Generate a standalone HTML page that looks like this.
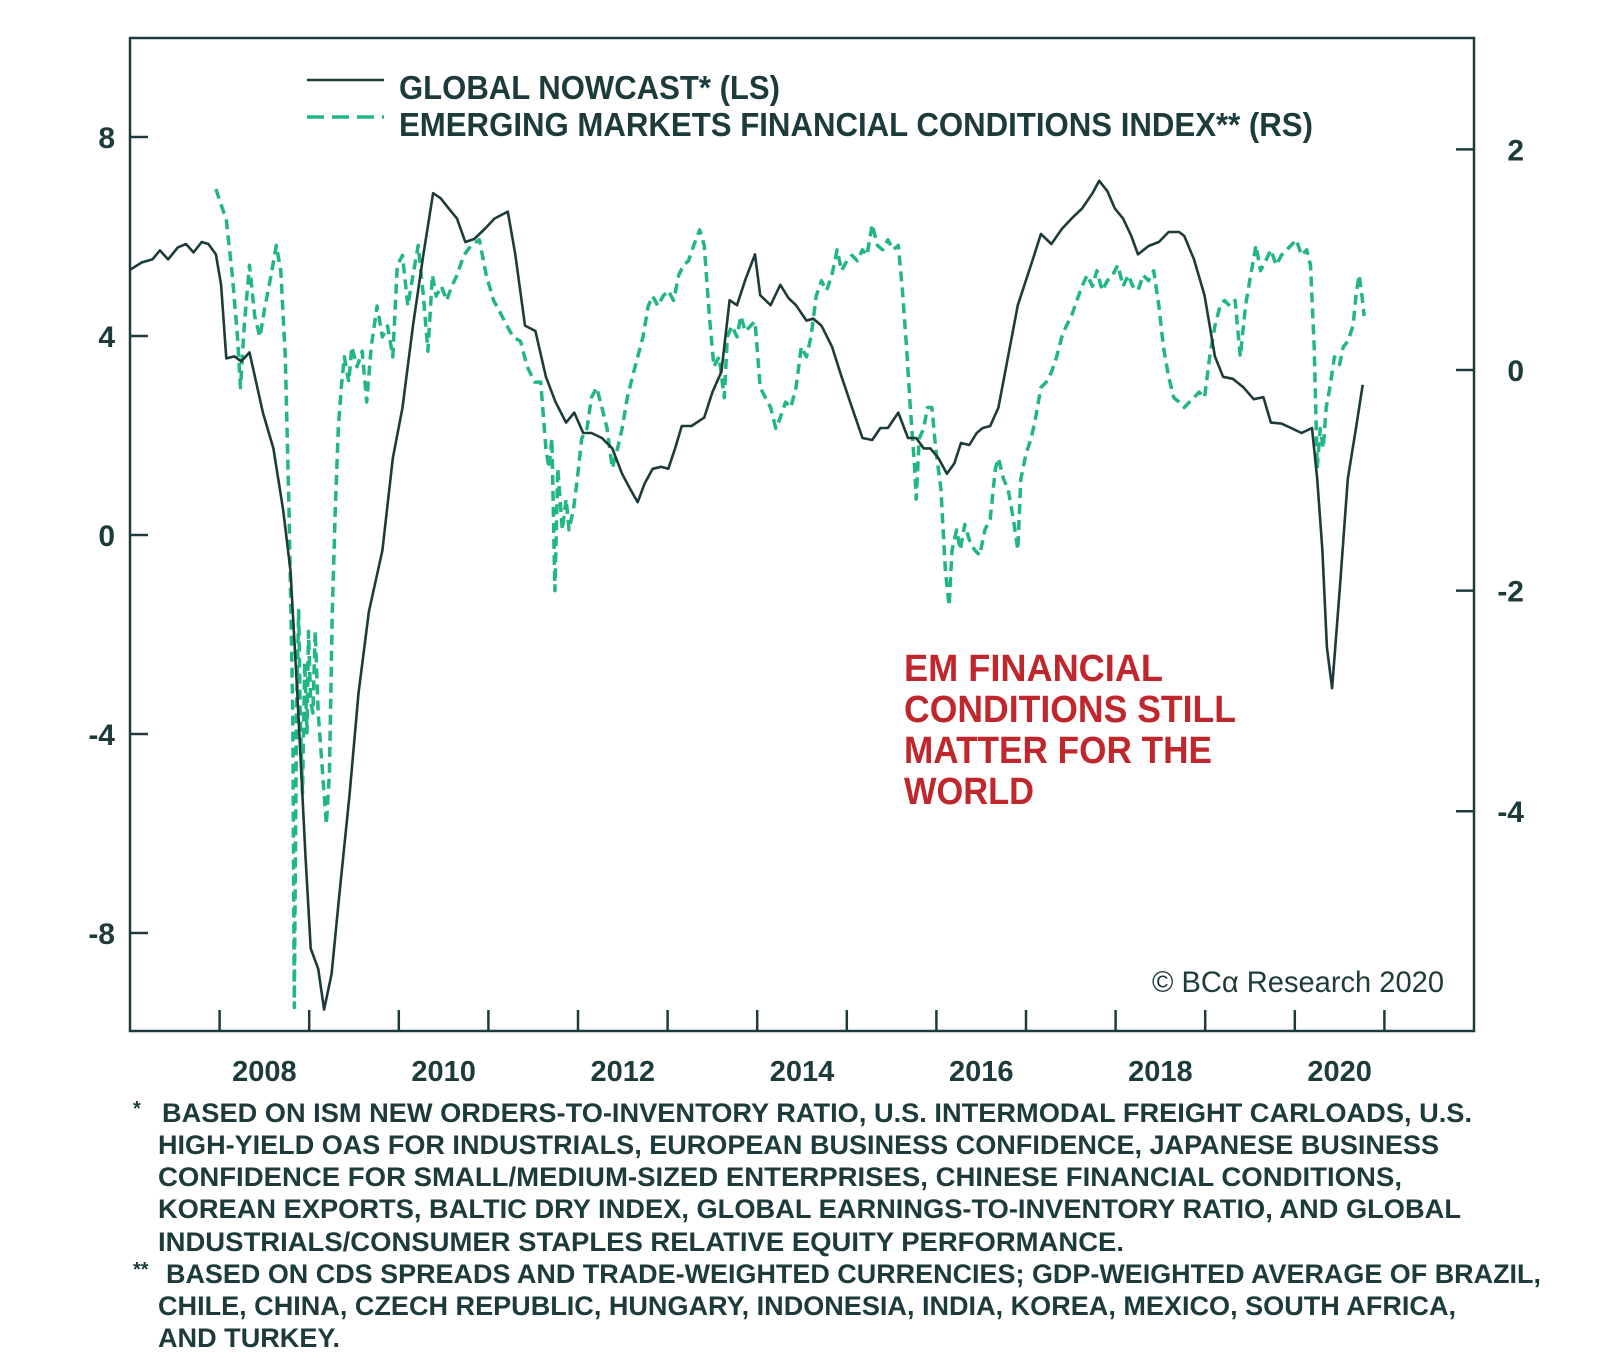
<!DOCTYPE html>
<html><head><meta charset="utf-8"><style>
html,body{margin:0;padding:0;background:#fff;}
svg{display:block;}
text{font-family:"Liberation Sans",sans-serif;}
</style></head><body>
<svg id="chart" width="1600" height="1370" viewBox="0 0 1600 1370" xmlns="http://www.w3.org/2000/svg">
<rect x="130" y="38" width="1344" height="993" fill="none" stroke="#1d3b3b" stroke-width="2.5"/>
<g id="axes"></g>
<g id="series"></g>
<g>
<line x1="307" y1="80" x2="384" y2="80" stroke="#1d3b3b" stroke-width="2.5"/>
<line x1="307" y1="117" x2="384" y2="117" stroke="#22b585" stroke-width="3.5" stroke-dasharray="17,8"/>
<text x="399" y="99" font-size="33" font-weight="bold" fill="#1d3b3b" textLength="381" lengthAdjust="spacingAndGlyphs">GLOBAL NOWCAST* (LS)</text>
<text x="399" y="136" font-size="33" font-weight="bold" fill="#1d3b3b" textLength="914" lengthAdjust="spacingAndGlyphs">EMERGING MARKETS FINANCIAL CONDITIONS INDEX** (RS)</text>
</g>
<g fill="#c0272d" font-size="38" font-weight="bold">
<text x="904" y="681" textLength="259" lengthAdjust="spacingAndGlyphs">EM FINANCIAL</text>
<text x="904" y="722" textLength="332" lengthAdjust="spacingAndGlyphs">CONDITIONS STILL</text>
<text x="904" y="763" textLength="308" lengthAdjust="spacingAndGlyphs">MATTER FOR THE</text>
<text x="904" y="804" textLength="130" lengthAdjust="spacingAndGlyphs">WORLD</text>
</g>
<text x="1152" y="992" font-family="Liberation Serif,serif" font-size="30" fill="#1d3b3b" textLength="292" lengthAdjust="spacingAndGlyphs">© BCα Research 2020</text>
<g fill="#1d3b3b" font-size="27" font-weight="bold">
<text x="133" y="1115" font-size="20">*</text>
<text x="162" y="1122" textLength="1310" lengthAdjust="spacingAndGlyphs">BASED ON ISM NEW ORDERS-TO-INVENTORY RATIO, U.S. INTERMODAL FREIGHT CARLOADS, U.S.</text>
<text x="158" y="1154" textLength="1281" lengthAdjust="spacingAndGlyphs">HIGH-YIELD OAS FOR INDUSTRIALS, EUROPEAN BUSINESS CONFIDENCE, JAPANESE BUSINESS</text>
<text x="158" y="1186" textLength="1244" lengthAdjust="spacingAndGlyphs">CONFIDENCE FOR SMALL/MEDIUM-SIZED ENTERPRISES, CHINESE FINANCIAL CONDITIONS,</text>
<text x="158" y="1218" textLength="1303" lengthAdjust="spacingAndGlyphs">KOREAN EXPORTS, BALTIC DRY INDEX, GLOBAL EARNINGS-TO-INVENTORY RATIO, AND GLOBAL</text>
<text x="158" y="1251" textLength="966" lengthAdjust="spacingAndGlyphs">INDUSTRIALS/CONSUMER STAPLES RELATIVE EQUITY PERFORMANCE.</text>
<text x="133" y="1276" font-size="20">**</text>
<text x="166" y="1283" textLength="1375" lengthAdjust="spacingAndGlyphs">BASED ON CDS SPREADS AND TRADE-WEIGHTED CURRENCIES; GDP-WEIGHTED AVERAGE OF BRAZIL,</text>
<text x="158" y="1315" textLength="1298" lengthAdjust="spacingAndGlyphs">CHILE, CHINA, CZECH REPUBLIC, HUNGARY, INDONESIA, INDIA, KOREA, MEXICO, SOUTH AFRICA,</text>
<text x="158" y="1347" textLength="182" lengthAdjust="spacingAndGlyphs">AND TURKEY.</text>
</g>
</svg>
<script>
// Global nowcast (left scale): months since Jan 2007, values
const nowMonths = [0,1.6,3.0,4.0,5.1,6.4,7.5,8.5,9.6,10.5,11.5,12.2,12.9,14.0,14.9,16.0,17.8,19.2,20.5,21.5,22.4,23.5,24.2,25.2,26.0,27.0,28.0,29.4,30.6,32.0,33.8,35.2,36.5,37.9,39.3,40.6,41.6,42.7,43.8,44.9,46.1,47.5,48.8,50.6,51.6,52.9,54.3,55.7,57.0,58.4,59.5,60.7,61.8,63.2,64.6,65.9,67.0,68.0,68.9,70.0,71.1,72.1,73.0,73.9,75.2,76.9,78.0,79.2,80.3,81.3,82.4,83.7,84.4,85.8,87.1,88.2,89.2,90.6,91.5,92.6,94.0,95.3,96.7,98.1,99.4,100.5,101.5,102.9,104.2,105.3,106.3,107.2,108.3,109.4,110.4,111.3,112.4,113.4,114.2,115.2,116.3,117.6,118.9,120.7,122.0,123.4,124.8,126.1,127.5,128.9,129.8,130.9,131.9,133.0,134.1,135.0,136.4,137.8,139.1,140.5,141.2,142.5,143.9,145.3,146.4,147.7,149.1,150.5,151.8,152.8,154.2,155.5,156.9,158.3,159.0,159.7,160.3,161.0,162.0,163.1,164.2,165.1];
const nowValues = [5.33,5.48,5.54,5.72,5.54,5.78,5.85,5.68,5.89,5.85,5.64,5.03,3.55,3.59,3.49,3.67,2.46,1.74,0.51,-0.72,-3.18,-6.46,-8.31,-8.72,-9.54,-8.82,-7.28,-5.23,-3.18,-1.54,-0.31,1.54,2.56,4.21,5.64,6.87,6.77,6.56,6.36,5.89,5.95,6.15,6.36,6.50,5.64,4.21,4.10,3.18,2.67,2.26,2.46,2.05,2.05,1.95,1.74,1.23,0.92,0.66,1.03,1.33,1.37,1.33,1.74,2.19,2.19,2.36,2.87,3.28,4.72,4.62,5.13,5.64,4.82,4.62,5.03,4.76,4.62,4.31,4.35,4.21,3.79,3.18,2.56,1.95,1.91,2.15,2.15,2.46,1.95,1.95,1.74,1.74,1.54,1.23,1.44,1.85,1.81,2.05,2.15,2.19,2.56,3.59,4.62,5.44,6.05,5.85,6.15,6.36,6.56,6.87,7.12,6.91,6.56,6.36,6.01,5.64,5.81,5.89,6.09,6.09,6.01,5.54,4.82,3.59,3.18,3.14,2.97,2.73,2.77,2.26,2.24,2.15,2.05,2.15,1.13,-0.31,-2.26,-3.08,-1.13,1.13,2.15,3.02];
// EM financial conditions index (right scale)
const emMonths = [11.5,12.9,13.7,14.4,14.8,15.3,16.0,16.7,17.4,18.1,18.9,19.6,20.2,20.8,21.3,21.8,22.0,22.3,22.6,22.8,23.1,23.4,23.7,23.9,24.2,24.5,24.8,25.2,25.6,26.0,26.3,26.7,27.1,27.5,27.9,28.3,28.7,29.3,29.7,30.4,31.1,31.7,32.3,33.1,33.8,34.5,35.2,35.8,36.5,37.2,37.9,38.6,39.3,39.9,40.5,41.0,41.7,42.4,43.1,43.8,44.7,45.7,46.8,47.7,48.7,49.5,50.5,51.3,52.3,53.2,54.2,55.0,55.7,56.1,56.5,56.9,57.3,57.9,58.4,58.8,59.4,59.9,60.5,61.2,61.8,62.5,63.2,63.9,64.6,65.3,65.9,66.6,67.3,68.0,68.7,69.4,70.0,70.7,71.4,72.1,72.8,73.5,74.1,74.8,75.5,76.3,76.9,77.6,78.2,78.9,79.6,80.0,80.6,81.3,81.8,82.4,83.1,83.7,84.4,85.1,85.8,86.5,87.1,87.8,88.5,89.2,89.9,90.6,91.2,91.9,92.6,93.3,94.0,94.7,95.3,96.0,96.7,97.4,98.1,98.7,99.4,100.1,100.8,101.5,102.2,102.9,103.4,104.0,104.5,105.1,105.3,105.7,106.3,106.8,107.4,107.9,108.6,109.2,109.7,110.1,110.7,111.2,111.8,112.4,113.1,113.8,114.5,115.2,115.9,116.3,117.0,117.6,118.3,118.9,119.3,120.0,120.7,121.3,122.0,122.7,123.4,124.1,124.8,125.4,126.1,126.8,127.5,128.2,128.9,129.5,130.2,130.9,131.6,132.3,133.0,133.7,134.3,135.0,135.7,136.4,137.1,137.8,138.4,139.1,139.8,140.5,141.2,141.9,142.5,143.2,143.9,144.6,145.3,146.0,146.6,147.3,148.0,148.7,149.4,150.1,150.8,151.4,152.1,152.8,153.5,154.2,154.9,155.5,156.2,156.9,157.6,158.1,158.6,159.0,159.4,159.8,160.2,160.7,161.3,162.0,162.5,163.1,163.8,164.2,164.6,165.0,165.3];
const emValues = [1.64,1.36,0.86,0.30,-0.16,0.40,0.95,0.49,0.30,0.58,0.86,1.13,0.90,0.12,-1.26,-3.11,-5.78,-3.11,-2.18,-3.11,-3.84,-2.65,-3.29,-2.37,-3.01,-3.11,-2.37,-3.11,-3.47,-3.84,-4.12,-3.66,-2.18,-1.26,-0.53,-0.16,0.12,-0.11,0.21,0.03,0.17,-0.29,0.21,0.58,0.30,0.40,0.12,0.95,1.04,0.58,0.86,1.13,0.67,0.17,0.86,0.67,0.76,0.63,0.76,0.86,1.04,1.13,1.18,0.86,0.63,0.53,0.40,0.30,0.26,0.03,-0.11,-0.11,-0.71,-0.89,-0.62,-2.00,-0.89,-1.45,-1.17,-1.45,-1.26,-0.99,-0.62,-0.53,-0.25,-0.16,-0.34,-0.53,-0.89,-0.71,-0.53,-0.25,-0.06,0.12,0.30,0.58,0.67,0.58,0.67,0.72,0.63,0.86,0.95,0.99,1.13,1.27,1.13,0.49,0.03,0.12,-0.25,0.30,0.40,0.30,0.49,0.35,0.40,0.44,-0.16,-0.25,-0.34,-0.53,-0.43,-0.29,-0.34,-0.16,0.21,0.12,0.30,0.67,0.81,0.72,0.86,1.09,0.90,0.99,1.04,0.99,1.09,1.04,1.32,1.13,1.09,1.18,1.09,1.13,0.76,0.21,-0.34,-0.89,-1.17,-0.62,-0.53,-0.34,-0.34,-0.71,-1.08,-1.82,-2.14,-1.63,-1.45,-1.63,-1.40,-1.54,-1.63,-1.68,-1.45,-1.35,-0.89,-0.80,-0.99,-1.08,-1.35,-1.63,-0.99,-0.76,-0.62,-0.43,-0.16,-0.11,-0.02,0.12,0.30,0.40,0.49,0.63,0.76,0.86,0.76,0.90,0.72,0.81,0.86,0.95,0.76,0.86,0.76,0.72,0.86,0.81,0.90,0.58,0.21,-0.06,-0.25,-0.29,-0.34,-0.29,-0.25,-0.20,-0.25,0.12,0.40,0.58,0.63,0.58,0.63,0.12,0.58,0.86,1.13,0.90,0.99,1.09,0.95,1.04,1.09,1.13,1.18,1.04,1.09,0.95,0.21,-0.89,-0.53,-0.71,-0.34,-0.16,0.12,0.05,0.21,0.26,0.40,0.67,0.86,0.67,0.49];
const leftTicks = [8,4,0,-4,-8];
const rightTicks = [2,0,-2,-4];
const yearTicks = [2008,2009,2010,2011,2012,2013,2014,2015,2016,2017,2018,2019,2020,2021];
const yearLabels = [2008,2010,2012,2014,2016,2018,2020];

const NS='http://www.w3.org/2000/svg';
const X0=130, X1=1474, Y0=38, Y1=1031;
const xYear = y => X0 + (y-2007)/(2022-2007)*(X1-X0);
const xMonth = m => xYear(2007 + m/12);
const yLeft = v => 535 - v*49.75;
const yRight = v => 370 - v*110.3;
function mk(tag, attrs, parent){const e=document.createElementNS(NS,tag);for(const k in attrs)e.setAttribute(k,attrs[k]);parent.appendChild(e);return e;}
const axes=document.getElementById('axes'), series=document.getElementById('series');
const col='#1d3b3b';
leftTicks.forEach(v=>{
  const y=yLeft(v);
  const t=mk('line',{x1:X0,x2:X0+18,y1:y,y2:y,stroke:col,'stroke-width':2.5},axes);
  
  
  const l=mk('text',{x:115,y:y+11,'text-anchor':'end','font-size':30,'font-weight':'bold',fill:col},axes);
  
  
  l.textContent=v;
});
rightTicks.forEach(v=>{
  const y=yRight(v);
  const t=mk('line',{x1:X1-18,x2:X1,y1:y,y2:y,stroke:col,'stroke-width':2.5},axes);
  
  
  const l=mk('text',{x:1524,y:y+11,'text-anchor':'end','font-size':30,'font-weight':'bold',fill:col},axes);
  
  
  l.textContent=v;
});
yearTicks.forEach(yr=>{
  const x=xYear(yr);
  const t=mk('line',{x1:x,x2:x,y1:Y1-21,y2:Y1,stroke:col,'stroke-width':2.5},axes);
  
  
});
yearLabels.forEach(yr=>{
  const l=mk('text',{x:xYear(yr+0.5),y:1081,'text-anchor':'middle','font-size':29,'font-weight':'bold',fill:col},axes);
  
  
  l.textContent=yr;
});
const emPts=emMonths.map((m,i)=>xMonth(m).toFixed(1)+','+yRight(emValues[i]).toFixed(1)).join(' ');
const em=mk('polyline',{points:emPts,fill:'none',stroke:'#22b585','stroke-width':3.5,'stroke-dasharray':'10,6','stroke-linejoin':'round'},series);


const nowPts=nowMonths.map((m,i)=>xMonth(m).toFixed(1)+','+yLeft(nowValues[i]).toFixed(1)).join(' ');
const nw=mk('polyline',{points:nowPts,fill:'none',stroke:col,'stroke-width':2.6,'stroke-linejoin':'round'},series);


</script>
</body></html>
